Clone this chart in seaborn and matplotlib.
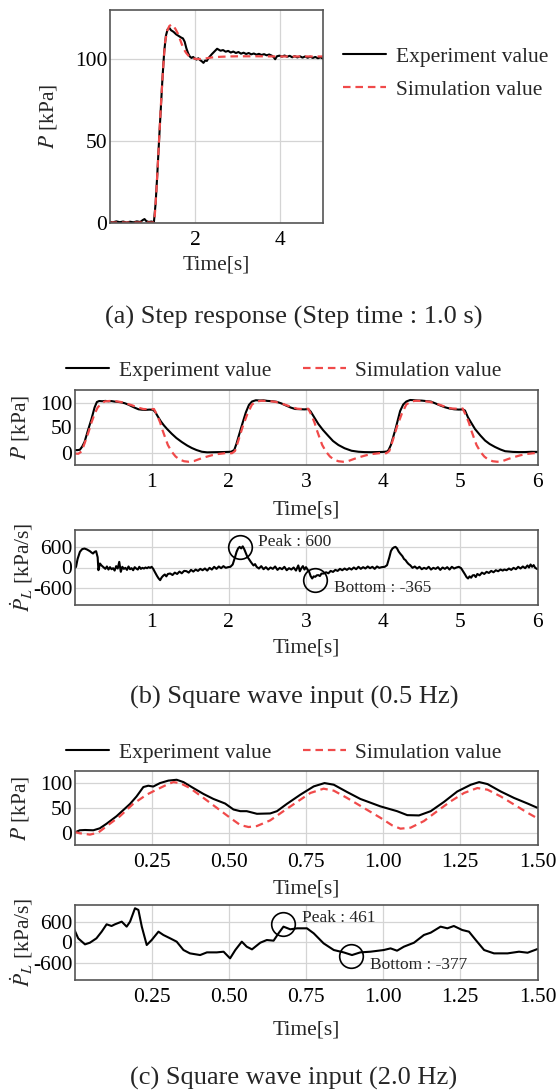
import matplotlib
matplotlib.use("Agg")
import matplotlib.pyplot as plt
import seaborn as sns
from matplotlib.lines import Line2D

# ---------------- data ----------------
# (a) step response
a_exp_t = [0.00, 0.08, 0.16, 0.24, 0.32, 0.40, 0.48, 0.56, 0.64, 0.72, 0.78, 0.82, 0.86, 0.92, 0.98,
           1.04, 1.08, 1.12, 1.16, 1.20, 1.24, 1.28, 1.32, 1.36, 1.40, 1.44, 1.50, 1.56, 1.62, 1.68,
           1.72, 1.76, 1.80, 1.84, 1.88, 1.92, 1.96, 2.00, 2.04, 2.08, 2.12, 2.16, 2.20, 2.24, 2.28,
           2.32, 2.36, 2.40, 2.46, 2.52, 2.56, 2.60, 2.66, 2.72, 2.78, 2.84, 2.90, 2.96, 3.02, 3.08,
           3.14, 3.20, 3.26, 3.32, 3.38, 3.44, 3.50, 3.56, 3.62, 3.68, 3.74, 3.80, 3.84, 3.88, 3.92,
           3.98, 4.04, 4.10, 4.16, 4.22, 4.28, 4.34, 4.40, 4.46, 4.52, 4.58, 4.64, 4.70, 4.76, 4.82,
           4.88, 4.94, 5.00]
a_exp_p = [0.8, 0.4, 1.0, 0.5, 0.9, 0.3, 0.8, 0.4, 1.0, 0.6, 1.8, 2.4, 1.2, 0.6, 0.9,
           0.5, 12, 30, 50, 69, 88, 104, 114, 118, 119, 117.5, 116.5, 115, 114, 113,
           112.5, 110.5, 106.5, 103.5, 101.5, 100.6, 101.2, 100.2, 99.6, 100.4, 99.3, 98.6, 97.6, 99.0, 98.8,
           100.6, 101.8, 103.0, 104.6, 106.2, 105.6, 105.0, 105.4, 104.4, 104.9, 103.9, 104.5, 103.6, 104.2, 103.2,
           103.8, 103.0, 103.6, 102.8, 103.3, 102.6, 103.1, 102.4, 102.9, 102.2, 102.7, 102.0, 101.2, 99.8, 101.6,
           102.0, 101.4, 102.1, 101.3, 101.9, 101.0, 101.7, 100.9, 101.6, 100.8, 101.5, 100.7, 101.4, 100.6, 101.2,
           100.4, 101.0, 100.2]
a_sim_t = [0.00, 1.00, 1.05, 1.10, 1.15, 1.20, 1.25, 1.30, 1.35, 1.40, 1.45, 1.50, 1.55, 1.60, 1.65,
           1.70, 1.75, 1.80, 1.85, 1.90, 1.95, 2.00, 2.10, 2.20, 2.30, 2.40, 2.60, 2.80, 3.00, 3.50,
           4.00, 4.50, 5.00]
a_sim_p = [0.3, 0.3, 0.5, 20, 45, 70, 92, 110, 117, 120, 121, 120, 118, 115.5, 112,
           108.5, 105.5, 103.5, 102, 101, 100.4, 100.1, 99.9, 100.1, 100.5, 100.9, 101.3, 101.5, 101.6, 101.6,
           101.5, 101.5, 101.5]

# (b) square wave 0.5 Hz : pressure
b_exp_t = [0.00, 0.04, 0.07, 0.10, 0.13, 0.17, 0.22, 0.26, 0.29, 0.32, 0.36, 0.40, 0.44, 0.48, 0.52,
           0.56, 0.60, 0.65, 0.70, 0.74, 0.78, 0.83, 0.87, 0.92, 0.97, 1.02, 1.05, 1.08, 1.12, 1.16,
           1.20, 1.26, 1.32, 1.39, 1.46, 1.52, 1.58, 1.65, 1.72, 1.80, 1.88, 1.95, 2.03,
           2.07, 2.10, 2.13, 2.18, 2.22, 2.26, 2.30, 2.35, 2.40, 2.45, 2.50, 2.56, 2.62, 2.68, 2.74,
           2.80, 2.86, 2.92, 2.98, 3.03, 3.06, 3.10, 3.16, 3.22, 3.29, 3.35, 3.42, 3.50, 3.59, 3.68,
           3.76, 3.84, 3.92, 4.00, 4.05,
           4.07, 4.10, 4.16, 4.22, 4.26, 4.30, 4.35, 4.40, 4.45, 4.50, 4.56, 4.62, 4.68, 4.74, 4.80,
           4.86, 4.92, 4.98, 5.03, 5.06, 5.10, 5.19, 5.26, 5.32, 5.38, 5.45, 5.52, 5.58, 5.68, 5.76,
           5.84, 5.92, 6.00]
b_exp_p = [4.6, 4.8, 5.5, 12, 21, 42, 67, 90, 101, 103, 102.5, 103.2, 102.4, 102.8, 101.8,
           101.2, 100.4, 98.6, 95.6, 92.5, 89.6, 86.4, 85.6, 85.2, 85.8, 85.4, 80, 72, 62, 54,
           47, 37.5, 29, 21, 14, 9, 5, 1.5, 0.3, 0.6, 0.8, 1.0, 1.5,
           5, 18, 34, 60, 80, 95, 102, 104.5, 104, 104.3, 103.2, 102.6, 101.4, 98.2, 94,
           90, 87, 86.6, 86.2, 86.8, 82, 72, 57, 45, 33, 23, 15, 8.5, 3.5, 1.5,
           0.8, 0.6, 0.9, 1.2, 2,
           5, 15, 47, 83, 96, 102, 105, 104.6, 104, 103.8, 102.8, 101.8, 98, 94, 90.5,
           88, 86.4, 85.8, 86.2, 84, 70, 47, 34, 24, 17, 11, 6, 2.6, 1.2, 0.8,
           0.9, 1.4, 1.2]
b_sim_t = [0.00, 0.05, 0.09, 0.13, 0.18, 0.22, 0.26, 0.30, 0.35, 0.39, 0.45, 0.52, 0.60, 0.68, 0.74,
           0.82, 0.89, 0.96, 1.03, 1.07, 1.11, 1.14, 1.17, 1.21, 1.26, 1.31, 1.36, 1.42, 1.48, 1.55,
           1.62, 1.70, 1.78, 1.86, 1.96, 2.04, 2.08, 2.13, 2.18, 2.24, 2.30, 2.36, 2.42, 2.50, 2.60,
           2.68, 2.74, 2.82, 2.89, 2.96, 3.03, 3.07, 3.11, 3.14, 3.17, 3.21, 3.26, 3.31, 3.36, 3.42,
           3.48, 3.55, 3.62, 3.70, 3.78, 3.86, 3.96, 4.04, 4.08, 4.13, 4.18, 4.24, 4.30, 4.36, 4.42,
           4.50, 4.60, 4.68, 4.74, 4.82, 4.89, 4.96, 5.03, 5.07, 5.11, 5.14, 5.17, 5.21, 5.26, 5.31,
           5.36, 5.42, 5.48, 5.55, 5.62, 5.70, 5.78, 5.86, 5.94, 6.00]
b_sim_p = [-2, -2.5, 2, 18, 40, 60, 77, 90, 98, 102, 103, 103, 101, 97.5, 94.7,
           90, 87, 86.5, 87, 75, 60, 45, 32, 15, 1.5, -8, -14, -17.5, -18.5, -17,
           -13, -9, -5.5, -3, -1.2, -1.5, 3, 27, 52, 77, 96, 102, 103.5, 103, 101.5,
           98, 95, 90.5, 87.5, 87, 87.5, 75, 60, 45, 32, 15, 1.5, -8, -14, -17.5,
           -18.5, -17, -13, -9, -5.5, -3, -1.2, -1.5, 3, 27, 52, 77, 96, 102, 103.5,
           103, 101.5, 98, 95, 90.5, 88, 87.5, 88, 75, 60, 45, 32, 15, 1.5, -8,
           -14, -17.5, -18.5, -17, -13, -9, -5.5, -3, -1.5, -1]

# (b) square wave 0.5 Hz : pressure rate
b_rate_t = [0.00, 0.02, 0.04, 0.07, 0.10, 0.13, 0.16, 0.20, 0.22, 0.24, 0.26, 0.28, 0.30, 0.31, 0.33,
            0.35, 0.37, 0.40, 0.42, 0.44, 0.46, 0.48, 0.50, 0.52, 0.54, 0.56, 0.58, 0.60, 0.62, 0.64,
            0.66, 0.68, 0.70, 0.72, 0.74, 0.76, 0.78, 0.80, 0.82, 0.84, 0.86, 0.88, 0.90, 0.92, 0.94,
            0.96, 0.98, 1.00, 1.02, 1.04, 1.07, 1.09, 1.11, 1.13, 1.15, 1.17, 1.19, 1.21, 1.24, 1.27,
            1.30, 1.33, 1.36, 1.39, 1.42, 1.45, 1.48, 1.51, 1.54, 1.57, 1.60, 1.63, 1.66, 1.69, 1.72,
            1.75, 1.78, 1.81, 1.84, 1.87, 1.90, 1.93, 1.96, 1.99, 2.02, 2.05, 2.08, 2.10, 2.12, 2.14,
            2.16, 2.18, 2.20, 2.22, 2.24, 2.26, 2.28, 2.30, 2.32, 2.34, 2.36, 2.39, 2.42, 2.45, 2.48,
            2.51, 2.54, 2.57, 2.60, 2.63, 2.66, 2.69, 2.72, 2.75, 2.78, 2.81, 2.84, 2.87, 2.90, 2.92,
            2.94, 2.96, 2.98, 3.00, 3.02, 3.04, 3.06, 3.08, 3.10, 3.12, 3.14, 3.16, 3.18, 3.20, 3.23,
            3.26, 3.29, 3.32, 3.35, 3.38, 3.41, 3.44, 3.47, 3.50, 3.53, 3.56, 3.59, 3.62, 3.65, 3.68,
            3.71, 3.74, 3.77, 3.80, 3.83, 3.86, 3.89, 3.92, 3.95, 3.98, 4.02, 4.05, 4.08, 4.10, 4.12,
            4.14, 4.16, 4.18, 4.20, 4.22, 4.25, 4.27, 4.29, 4.31, 4.33, 4.35, 4.38, 4.41, 4.44, 4.47,
            4.50, 4.53, 4.56, 4.59, 4.62, 4.65, 4.68, 4.71, 4.74, 4.77, 4.80, 4.83, 4.86, 4.89, 4.92,
            4.95, 4.98, 5.01, 5.04, 5.06, 5.08, 5.10, 5.12, 5.14, 5.16, 5.18, 5.20, 5.22, 5.25, 5.28,
            5.31, 5.34, 5.37, 5.40, 5.43, 5.46, 5.49, 5.52, 5.55, 5.57, 5.60, 5.63, 5.66, 5.69, 5.72,
            5.75, 5.78, 5.81, 5.84, 5.87, 5.89, 5.91, 5.93, 5.95, 5.97, 6.00]
b_rate_v = [-29, 20, 250, 459, 540, 556, 530, 478, 440, 410, 459, 478, 300, -78, 117,
            60, 20, -40, 30, -60, 10, -50, -20, -90, 40, -30, 166, -127, 20, -40,
            -10, -70, 30, -50, -20, -80, 10, -30, -60, 20, -40, -10, -30, 0, -20,
            10, -10, 20, -40, -127, -250, -320, -371, -290, -240, -205, -260, -190, -176, -220,
            -150, -190, -120, -170, -100, -107, -150, -70, -120, -60, -100, -40, -80, -29, -90,
            -10, -60, 20, -40, 30, -20, 40, -10, 10, 20, 88, 300, 459, 560, 605,
            560, 620, 537, 420, 312, 250, 180, 117, 60, 100, 20, -30, 40, -50, 10,
            -60, 0, -40, 30, -70, -10, -50, 20, -80, -20, -60, 0, -90, 60, -110,
            -20, 40, -60, 10, -60, -120, -250, -322, -260, -273, -230, -224, -250, -180, -176,
            -140, -170, -100, -130, -70, -100, -40, -80, -30, -70, -20, -60, 0, -50, 20,
            -40, 10, -30, 30, -20, 20, -40, 30, -10, 10, 20, 68, 300, 480, 556,
            590, 605, 560, 470, 410, 330, 250, 215, 150, 100, 68, -10, 30, -30, 20,
            -50, -10, -40, 20, -60, -10, -40, 10, -70, 0, -40, 10, -60, 20, -30,
            0, 20, -20, -127, -200, -280, -322, -260, -300, -230, -224, -280, -190, -230, -150,
            -190, -127, -160, -100, -140, -80, -110, -60, -90, -59, -80, -30, -70, -10, -50,
            20, -30, 30, -20, 60, 0, 88, 20, 70, -10, -49]

# (c) square wave 2.0 Hz : pressure
c_exp_t = [0.000, 0.017, 0.034, 0.061, 0.082, 0.104, 0.136, 0.180, 0.201, 0.223, 0.239, 0.255, 0.277,
           0.304, 0.331, 0.353, 0.385, 0.418, 0.450, 0.488, 0.515, 0.537, 0.558, 0.591, 0.634, 0.656,
           0.688, 0.732, 0.775, 0.810, 0.840, 0.883, 0.926, 0.991, 1.045, 1.078, 1.116, 1.154, 1.197,
           1.240, 1.284, 1.311, 1.338, 1.381, 1.424, 1.468, 1.500]
c_exp_p = [0, 4.7, 5.3, 4.7, 8.7, 18, 33, 58, 73, 92, 94.7, 93, 100,
           105, 106.7, 102, 90, 78, 68, 58.7, 46.7, 43.3, 43.3, 38, 38.7, 43.3,
           58, 76.7, 93.3, 100, 96.7, 82, 68, 53, 43.3, 35.3, 34.7, 43.3, 62,
           83, 96.7, 102, 98, 83, 70, 58.7, 50]
c_sim_t = [0.000, 0.017, 0.050, 0.077, 0.104, 0.147, 0.190, 0.234, 0.266, 0.299, 0.320, 0.342, 0.374,
           0.418, 0.461, 0.504, 0.537, 0.564, 0.591, 0.634, 0.677, 0.721, 0.764, 0.807, 0.840, 0.883,
           0.937, 0.991, 1.029, 1.056, 1.089, 1.132, 1.175, 1.219, 1.262, 1.305, 1.338, 1.381, 1.424,
           1.468, 1.500]
c_sim_p = [1.3, -1.3, -4, 0, 13, 33, 58, 76.7, 86.7, 96.7, 102, 100, 90,
           70, 50, 30, 15.3, 11.3, 13.3, 24.7, 43.3, 62, 80, 88.7, 84.7, 70,
           50, 30, 14.7, 8, 10, 23.3, 43.3, 63.3, 80, 90, 86.7, 73, 56.7,
           40, 28.7]

# (c) square wave 2.0 Hz : pressure rate
c_rate_t = [0.000, 0.012, 0.034, 0.050, 0.071, 0.088, 0.104, 0.120, 0.131, 0.153, 0.169, 0.180, 0.196,
            0.207, 0.218, 0.234, 0.250, 0.272, 0.288, 0.310, 0.331, 0.353, 0.374, 0.407, 0.429, 0.461,
            0.483, 0.504, 0.521, 0.542, 0.558, 0.575, 0.602, 0.623, 0.645, 0.661, 0.677, 0.699, 0.721,
            0.753, 0.775, 0.807, 0.840, 0.872, 0.899, 0.926, 0.959, 1.002, 1.024, 1.045, 1.067, 1.100,
            1.132, 1.154, 1.186, 1.208, 1.229, 1.256, 1.278, 1.300, 1.327, 1.359, 1.403, 1.440, 1.468,
            1.500]
c_rate_v = [361, 117, -59, -10, 117, 312, 527, 478, 527, 605, 459, 605, 996,
            947, 459, -78, 68, 312, 215, 117, 20, -224, -322, -371, -293, -293,
            -273, -468, -224, 20, -127, -205, -10, 68, 49, 264, 459, 381, 410,
            410, 264, -29, -224, -293, -371, -293, -273, -224, -176, -244, -127, -10,
            215, 283, 459, 410, 478, 361, 312, 68, -224, -322, -322, -273, -303,
            -195]

# annotations (marked extremes)
b_peak = (2.15, 590)
b_bottom = (3.12, -371)
c_peak = (0.677, 540)
c_bottom = (0.897, -400)
b_peak_text = (2.38, 760, "Peak : 600")
b_bottom_text = (3.36, -615, "Bottom : -365")
c_peak_text = (0.737, 710, "Peak : 461")
c_bottom_text = (0.956, -664, "Bottom : -377")

legend_labels = ["Experiment value", "Simulation value"]
captions = ["(a) Step response (Step time : 1.0 s)",
            "(b) Square wave input (0.5 Hz)",
            "(c) Square wave input (2.0 Hz)"]

# ---------------- style ----------------
sns.set_style("whitegrid", {"grid.color": "#d4d4d4", "axes.edgecolor": "#555555"})
plt.rcParams["font.family"] = ["Liberation Serif", "DejaVu Serif"]
plt.rcParams["mathtext.fontset"] = "stix"
plt.rcParams["axes.unicode_minus"] = False

FS = 15.5
EXP_C = "black"
SIM_C = "#f04a4a"

W, H = 558, 1092
fig = plt.figure(figsize=(W / 100, H / 100), dpi=100)


def px_axes(l, t, r, b):
    return fig.add_axes([l / W, 1 - b / H, (r - l) / W, (b - t) / H])


def draw(ax, xe, ye, xs=None, ys=None):
    sns.lineplot(x=xe, y=ye, ax=ax, color=EXP_C, linewidth=1.5, errorbar=None)
    if xs is not None:
        sns.lineplot(x=xs, y=ys, ax=ax, color=SIM_C, linewidth=1.6, linestyle="--", errorbar=None)
        ax.lines[-1].set_dashes((3.4, 2.2))


def style(ax, xlim, ylim, xt, xtl, yt, ytl, ylabel, ylab_x, xlab_y):
    ax.set_xlim(*xlim)
    ax.set_ylim(*ylim)
    ax.set_xticks(xt)
    ax.set_xticklabels(xtl)
    ax.set_yticks(yt)
    ax.set_yticklabels(ytl)
    ax.grid(True, color="#d4d4d4", linewidth=0.9)
    for s in ax.spines.values():
        s.set_color("#555555")
        s.set_linewidth(1.2)
    ax.tick_params(axis="both", direction="in", length=4, color="#888888", labelsize=FS,
                   labelcolor="black")
    ax.tick_params(axis="x", pad=6)
    ax.tick_params(axis="y", pad=1.5)
    ax.set_xlabel("Time[s]", fontsize=FS)
    ax.xaxis.label.set_va("center")
    ax.xaxis.set_label_coords(0.5, xlab_y)
    ax.set_ylabel(ylabel, fontsize=FS)
    ax.yaxis.label.set_va("center")
    ax.yaxis.label.set_ha("center")
    ax.yaxis.set_label_coords(ylab_x, 0.5)


def annotate(ax, pt):
    ax.plot([pt[0]], [pt[1]], marker="o", ms=17, mfc="none", mec="black", mew=1.2, ls="none")


def note(ax, t):
    ax.text(t[0], t[1], t[2], fontsize=12.5, ha="left", va="center")


# (a)
axA = px_axes(109.5, 9.7, 323, 223)
draw(axA, a_exp_t, a_exp_p, a_sim_t, a_sim_p)
style(axA, (0, 5), (0, 130), [2, 4], ["2", "4"], [0, 50, 100], ["0", "50", "100"],
      r"$P$ [kPa]", -0.2866, -0.197)

# (b)
axB1 = px_axes(74.5, 390, 537.5, 465)
draw(axB1, b_exp_t, b_exp_p, b_sim_t, b_sim_p)
style(axB1, (0, 6), (-25, 125), [1, 2, 3, 4, 5, 6], ["1", "2", "3", "4", "5", "6"],
      [0, 50, 100], ["0", "50", "100"], r"$P$ [kPa]", -0.1177, -0.6)

axB2 = px_axes(74.5, 530, 537.5, 605)
draw(axB2, b_rate_t, b_rate_v)
style(axB2, (0, 6), (-1100, 1100), [1, 2, 3, 4, 5, 6], ["1", "2", "3", "4", "5", "6"],
      [-600, 0, 600], ["-600", "0", "600"], r"$\dot{P}_L$ [kPa/s]", -0.1134, -0.573)
annotate(axB2, b_peak)
annotate(axB2, b_bottom)
note(axB2, b_peak_text)
note(axB2, b_bottom_text)

# (c)
c_ticks = [0.25, 0.50, 0.75, 1.00, 1.25, 1.50]
c_tl = ["0.25", "0.50", "0.75", "1.00", "1.25", "1.50"]
axC1 = px_axes(74.5, 770.7, 537.5, 845)
draw(axC1, c_exp_t, c_exp_p, c_sim_t, c_sim_p)
style(axC1, (0, 1.5), (-25, 125), c_ticks, c_tl, [0, 50, 100], ["0", "50", "100"],
      r"$P$ [kPa]", -0.1177, -0.596)

axC2 = px_axes(74.5, 904.7, 537.5, 980)
draw(axC2, c_rate_t, c_rate_v)
style(axC2, (0, 1.5), (-1100, 1100), c_ticks, c_tl, [-600, 0, 600], ["-600", "0", "600"],
      r"$\dot{P}_L$ [kPa/s]", -0.1134, -0.664)
annotate(axC2, c_peak)
annotate(axC2, c_bottom)
note(axC2, c_peak_text)
note(axC2, c_bottom_text)

# legends
h_exp = Line2D([], [], color=EXP_C, linewidth=1.5)
h_sim = Line2D([], [], color=SIM_C, linewidth=1.6, linestyle="--", dashes=(3.4, 2.2))
fig.legend([h_exp, h_sim], legend_labels, loc="upper left",
           bbox_to_anchor=(332.5 / W, 1 - 36 / H), frameon=False, borderpad=0,
           handlelength=2.0, handletextpad=0.45, labelspacing=0.6, fontsize=FS)
for yc in (370.7, 752.7):
    fig.legend([h_exp, h_sim], legend_labels, loc="center", ncol=2,
               bbox_to_anchor=(284 / W, 1 - yc / H), frameon=False, borderpad=0,
               handlelength=2.0, handletextpad=0.45, columnspacing=1.45, fontsize=FS)

# captions
for cap, yc in zip(captions, (317, 697, 1078)):
    fig.text(294 / W, 1 - yc / H, cap, ha="center", va="center", fontsize=19)

fig.savefig("out.png", dpi=100)
